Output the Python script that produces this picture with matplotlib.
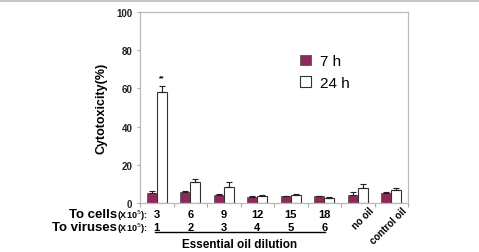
import numpy as np
import matplotlib.pyplot as plt
from matplotlib.lines import Line2D
from matplotlib.transforms import blended_transform_factory

plt.rcParams['font.family'] = ['Liberation Sans', 'DejaVu Sans']

groups = ['3/1', '6/2', '9/3', '12/4', '15/5', '18/6', 'no oil', 'control oil']
cells = ['3', '6', '9', '12', '15', '18']
viruses = ['1', '2', '3', '4', '5', '6']
h7 = [5.0, 5.5, 4.0, 3.3, 3.5, 3.5, 4.3, 5.0]
h7_err = [1.5, 1.0, 0.6, 0.6, 0.3, 0.3, 1.3, 1.0]
h24 = [58.0, 11.2, 8.6, 3.6, 4.3, 2.6, 8.0, 6.6]
h24_err = [3.5, 1.6, 2.4, 0.7, 0.3, 0.3, 1.8, 1.2]
yticks = [0, 20, 40, 60, 80, 100]

fig = plt.figure(figsize=(4.79, 2.53), dpi=100)
ax = fig.add_axes([140/479, 1-204/253, 268/479, 191/253])

x = np.arange(len(groups))
w = 0.3
ax.bar(x - w/2, h7, w, color='#8e2a5a', edgecolor='#555555', linewidth=0.6,
       yerr=[np.zeros(len(h7)), h7_err], error_kw=dict(elinewidth=0.8, capsize=2, capthick=0.8, ecolor='#222222'),
       label='7 h')
ax.bar(x + w/2, h24, w, color='white', edgecolor='#333333', linewidth=0.8,
       yerr=[np.zeros(len(h24)), h24_err], error_kw=dict(elinewidth=0.8, capsize=2, capthick=0.8, ecolor='#222222'),
       label='24 h')
ax.text(x[0] + w/2, h24[0] + h24_err[0] + 2.5, '**', ha='center', va='bottom', fontsize=5, fontweight='bold')

ax.set_xlim(-0.5, len(groups) - 0.5)
ax.set_ylim(0, 100)
ax.set_yticks(yticks)
ax.set_yticklabels([str(t) for t in yticks], fontsize=7, fontweight='bold', color='#222222')
ax.set_xticks(np.arange(len(groups) + 1) - 0.5)
ax.set_xticklabels([])
ax.tick_params(axis='x', length=3, color='#aaaaaa', width=0.8)
ax.tick_params(axis='y', length=2.5, color='#aaaaaa', width=0.8, pad=3)
for s in ax.spines.values():
    s.set_color('#bbbbbb')
    s.set_linewidth(0.9)
ax.set_ylabel('Cytotoxicity(%)', fontsize=9, fontweight='bold', labelpad=6)

ax.legend(frameon=False, loc='upper left', bbox_to_anchor=(0.545, 0.85), fontsize=11,
          handlelength=0.7, handleheight=0.7, handletextpad=0.6, labelspacing=0.5)

# category labels below the axis
tr = blended_transform_factory(ax.transData, fig.transFigure)
py = lambda p: 1 - p/253
for i, (c, v) in enumerate(zip(cells, viruses)):
    ax.text(x[i], py(215), c, transform=tr, ha='center', va='center', fontsize=8, fontweight='bold')
    ax.text(x[i], py(228), v, transform=tr, ha='center', va='center', fontsize=8, fontweight='bold')

fig.text(117/479, py(215), 'To cells', ha='right', va='center', fontsize=9.5, fontweight='bold')
fig.text(117/479, py(216), '(X10$^5$):', ha='left', va='center', fontsize=6.5, fontweight='bold')
fig.text(117/479, py(228), 'To viruses', ha='right', va='center', fontsize=9.5, fontweight='bold')
fig.text(117/479, py(229), '(X10$^5$):', ha='left', va='center', fontsize=6.5, fontweight='bold')

for i, lab in zip([6, 7], groups[6:]):
    ax.text(x[i] + 0.32, py(206), lab, transform=tr, rotation=45, rotation_mode='anchor',
            ha='right', va='top', fontsize=7, fontweight='bold')

fig.add_artist(Line2D([155/479, 325/479], [py(233), py(233)], color='black', linewidth=1))
fig.text(240/479, py(245), 'Essential oil dilution', ha='center', va='center', fontsize=8.5, fontweight='bold')

fig.add_artist(Line2D([0, 1], [py(2), py(2)], color='#bbbbbb', linewidth=1.2))

fig.savefig('out.png', dpi=100)
